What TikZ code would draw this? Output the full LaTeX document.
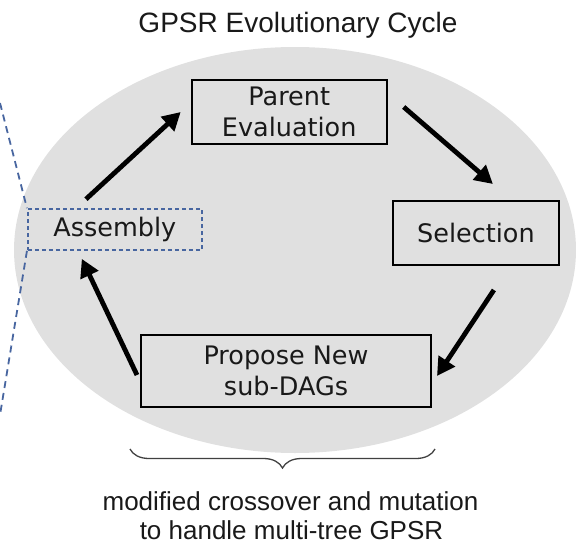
\documentclass[tikz,border=0pt]{standalone}
\usepackage{fontspec}
\setmainfont{Liberation Sans}
\newfontfamily\boxfont{DejaVu Sans}
\usetikzlibrary{arrows.meta,decorations.pathreplacing}
\definecolor{ellgray}{RGB}{224,224,224}
\definecolor{dashblue}{RGB}{72,102,160}
\definecolor{txtdark}{RGB}{25,25,25}
\tikzset{
  stagebox/.style={draw=black, line width=2pt, minimum width=#1, inner sep=0pt,
    align=center, text=txtdark, font=\boxfont\fontsize{25.5}{31.5}\selectfont},
  asmbox/.style={draw=dashblue, line width=1.7pt, dash pattern=on 4pt off 3pt,
    minimum width=174pt, minimum height=41pt, inner sep=0pt, text=txtdark,
    font=\boxfont\fontsize{25.5}{31}\selectfont},
  cyclearrow/.style={line width=4.8pt, -{Triangle[length=18pt,width=19pt]}},
  blueline/.style={draw=dashblue, line width=1.8pt, dash pattern=on 7pt off 5pt},
  captext/.style={anchor=base, text=txtdark, font=\fontsize{26}{29}\selectfont},
}
\begin{document}
\begin{tikzpicture}[x=1pt,y=-1pt]
\useasboundingbox (0,0) rectangle (576,546);
% background ellipse
\fill[ellgray] (295,250) ellipse [x radius=281, y radius=203];
% title
\node[anchor=base, text=txtdark, font=\fontsize{28}{32}\selectfont] (title) at (298,32) {GPSR Evolutionary Cycle};
% stages
\node[stagebox=195pt, minimum height=64pt] (par) at (289.2,112) {Parent\\Evaluation};
\node[stagebox=166pt, minimum height=64pt] (sel) at (475.9,233) {Selection};
\node[stagebox=290pt, minimum height=72pt] (pro) at (286,371) {Propose New\\sub-DAGs};
\node[asmbox] (asm) at (114.8,229.5) {Assembly};
% arrows
\draw[cyclearrow] ([shift={(59,-9)}]asm.north west) -- ([xshift=-10]par.west);
\draw[cyclearrow] ([shift={(16,-5)}]par.east) -- ([shift={(17,-16)}]sel.north);
\draw[cyclearrow] ([shift={(18,24)}]sel.south) -- ([shift={(5,5)}]pro.east);
\draw[cyclearrow] ([shift={(-3,4)}]pro.west) -- ([shift={(-33,8)}]asm.south);
% blue dashed boundary lines
\coordinate (bltop) at (0,103);
\coordinate (blbot) at (0,415);
\draw[blueline] (bltop) -- (asm.north west);
\draw[blueline] (asm.south west) -- (blbot);
% brace
\coordinate (brl) at (130,449);
\coordinate (brr) at (435,449);
\draw[line width=1.3pt, draw=black!75, decorate,
  decoration={brace, mirror, amplitude=19pt}] (brl) -- (brr);
% caption
\node[captext] (cap1) at (290.5,510) {modified crossover and mutation};
\node[captext] (cap2) at (291.5,539) {to handle multi-tree GPSR};
\end{tikzpicture}
\end{document}
